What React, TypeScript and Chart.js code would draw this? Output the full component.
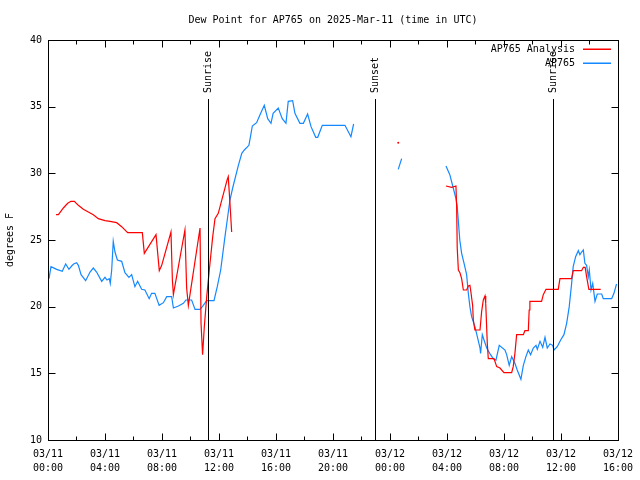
import React, { useEffect, useRef } from "react";
import { Chart, registerables } from "chart.js";

Chart.register(...registerables);

const TITLE = "Dew Point for AP765 on 2025-Mar-11 (time in UTC)";
const Y_LABEL = "degrees F";
const SERIES_NAMES = ["AP765 Analysis", "AP765"];
const SERIES_COLORS = ["#ff0000", "#1488ff"];
const DAY_LABELS = ["03/11", "03/12"];

// hours since 03/11 00:00 UTC; null value = gap
const analysisHours = [
  0.56, 0.73, 1.08, 1.38, 1.61, 1.85, 2.13, 2.48, 2.83, 3.18, 3.53, 4.0, 4.35, 4.82, 5.17, 5.59,
  6.57, 6.62, 6.76, 7.58, 7.81, 7.98, 8.63, 8.73, 8.8, 9.61, 9.73, 9.85, 10.67, 10.74, 10.85,
  10.97, 11.14, 11.32, 11.56, 11.72, 11.95, 12.58, 12.65, 12.77, 12.89,
  18.0,
  24.58,
  26.0,
  27.93, 28.33, 28.63, 28.68, 28.72, 28.8, 28.91, 29.03, 29.15, 29.38, 29.5, 29.61, 29.68, 29.8,
  29.85, 29.96, 30.32, 30.43, 30.55, 30.67, 30.72, 30.83, 30.9, 31.3, 31.49, 31.72, 32.0, 32.54,
  32.65, 32.77, 32.89, 33.36, 33.47, 33.71, 33.77, 33.82, 34.64, 34.76, 34.95, 35.81, 35.93,
  36.75, 36.86, 37.45, 37.57, 37.7, 37.8, 37.96, 38.79,
];
const analysisValues = [
  26.9, 26.9, 27.4, 27.75, 27.9, 27.9, 27.6, 27.3, 27.1, 26.9, 26.6, 26.45, 26.4, 26.3, 26.0, 25.55,
  25.55, 25.55, 24.0, 25.4, 22.7, 23.1, 25.6, 22.0, 20.9, 25.75, 21.4, 20.1, 25.9, 18.75, 16.4,
  18.5, 20.75, 22.75, 25.25, 26.6, 27.0, 29.55, 29.75, 27.75, 25.6,
  null,
  32.3,
  null,
  29.05, 28.95, 29.05, 27.5, 24.4, 22.75, 22.55, 22.1, 21.25, 21.25, 21.55, 21.6, 21.1, 20.1,
  19.0, 18.25, 18.25, 19.6, 20.5, 20.8, 20.25, 17.25, 16.1, 16.1, 15.5, 15.4, 15.05, 15.05,
  15.5, 16.5, 17.9, 17.9, 18.2, 18.2, 19.75, 20.4, 20.4, 20.9, 21.3, 21.3, 22.1,
  22.1, 22.7, 22.7, 22.95, 22.95, 22.25, 21.3, 21.3,
];

const obsHours = [
  0.07, 0.21, 0.61, 1.0, 1.24, 1.47, 1.66, 1.8, 2.01, 2.13, 2.32, 2.64, 2.95, 3.18, 3.41, 3.77,
  4.0, 4.14, 4.3, 4.37, 4.47, 4.58, 4.7, 4.87, 5.17, 5.4, 5.68, 5.87, 6.1, 6.29, 6.57, 6.8, 7.1,
  7.27, 7.5, 7.8, 8.1, 8.33, 8.68, 8.8, 9.15, 9.5, 9.68, 10.08, 10.32, 10.67, 10.9, 11.14, 11.65,
  11.88, 12.12, 12.42, 12.58, 12.77, 12.96, 13.36, 13.6, 13.78, 14.1, 14.25, 14.34, 14.64, 14.88,
  15.18, 15.42, 15.65, 15.8, 16.16, 16.44, 16.7, 16.86, 17.17, 17.33, 17.68, 17.92, 18.22, 18.46,
  18.79, 18.93, 19.25, 20.84, 21.26, 21.45,
  23.0,
  24.58, 24.82,
  26.0,
  27.93, 28.2, 28.44, 28.63, 28.72, 28.8, 28.9, 29.03, 29.2, 29.38, 29.5, 29.61, 29.73, 29.96,
  30.13, 30.32, 30.36, 30.48, 30.6, 30.79, 31.0, 31.25, 31.44, 31.67, 32.07, 32.19, 32.37, 32.54,
  32.77, 32.93, 33.19, 33.36, 33.54, 33.71, 33.87, 34.06, 34.25, 34.34, 34.53, 34.72, 34.88,
  35.04, 35.23, 35.42, 35.51, 35.74, 35.98, 36.21, 36.4, 36.58, 36.75, 36.86, 37.03, 37.22,
  37.33, 37.45, 37.57, 37.68, 37.8, 37.92, 37.99, 38.11, 38.23, 38.39, 38.55, 38.86, 38.97,
  39.56, 39.72, 39.9,
];
const obsValues = [
  22.1, 23.0, 22.8, 22.65, 23.2, 22.8, 23.05, 23.2, 23.3, 23.1, 22.4, 21.95, 22.6, 22.9, 22.6, 21.9,
  22.2, 22.0, 22.1, 21.75, 22.75, 24.9, 24.1, 23.5, 23.4, 22.55, 22.2, 22.4, 21.5, 21.9, 21.3, 21.25, 20.6,
  21.0, 21.0, 20.1, 20.3, 20.75, 20.75, 19.9, 20.05, 20.25, 20.5, 20.5, 19.8, 19.8, 20.1, 20.45, 20.45,
  21.5, 22.75, 25.25, 26.5, 28.0, 28.9, 30.6, 31.5, 31.75, 32.1, 33.0, 33.55, 33.8, 34.4,
  35.1, 34.1, 33.75, 34.5, 34.9, 34.1, 33.75, 35.4, 35.45, 34.5, 33.75, 33.75, 34.45, 33.5,
  32.7, 32.7, 33.6, 33.6, 32.75, 33.7,
  null,
  30.3, 31.1,
  null,
  30.55, 29.9, 28.9, 28.1, 27.5, 26.4, 25.0, 24.0, 23.25, 22.4, 21.0, 20.0, 19.25, 18.5,
  17.75, 16.9, 16.5, 17.9, 17.5, 16.9, 16.5, 16.1, 16.0, 17.1, 16.75, 16.4, 15.6, 16.25,
  15.75, 15.25, 14.55, 15.6, 16.25, 16.75, 16.4, 16.9, 17.1, 16.8, 17.4, 16.95, 17.7,
  16.9, 17.2, 17.1, 16.75, 17.0, 17.5, 17.9, 18.75, 20.0, 21.75, 23.0, 23.75, 24.2,
  23.9, 24.1, 24.25, 23.25, 23.1, 22.25, 22.75, 21.25, 21.75, 20.4, 20.95, 20.95, 20.6,
  20.6, 21.0, 21.7,
];

const sunEventHours = [11.23, 22.95, 35.44];
const sunEventLabels = ["Sunrise", "Sunset", "Sunrise"];

const X_MIN = 0;
const X_MAX = 40;
const Y_MIN = 10;
const Y_MAX = 40;

const FONT = "DejaVu Sans Mono";

function toPoints(hours: number[], values: (number | null)[]) {
  return hours.map((h, i) => ({ x: h, y: values[i] }));
}

function fmtHour(v: number): string | string[] {
  if (Math.abs(v % 4) > 1e-6) return "";
  const day = DAY_LABELS[Math.floor(v / 24)] ?? "";
  const hh = String(Math.round(v % 24)).padStart(2, "0");
  return [day, hh + ":00"];
}

const isolatedRadius = (ctx: any) => {
  const d = ctx.dataset.data;
  const i = ctx.dataIndex;
  const cur = d[i];
  if (!cur || cur.y == null) return 0;
  const p = d[i - 1];
  const n = d[i + 1];
  return (!p || p.y == null) && (!n || n.y == null) ? 1 : 0;
};

const decorPlugin = {
  id: "decor",
  afterDatasetsDraw(chart: any) {
    const { ctx, chartArea: a, scales } = chart;
    const xs = scales.x;
    const ys = scales.y;
    const L = Math.round(a.left) + 0.5;
    const R = Math.round(a.right) + 0.5;
    const T = Math.round(a.top) + 0.5;
    const B = Math.round(a.bottom) + 0.5;
    ctx.save();
    ctx.strokeStyle = "#000";
    ctx.lineWidth = 1;

    // tick marks (inside, mirrored)
    ctx.beginPath();
    for (let v = Y_MIN; v <= Y_MAX; v += 5) {
      const y = Math.round(ys.getPixelForValue(v)) + 0.5;
      ctx.moveTo(L, y); ctx.lineTo(L + 7, y);
      ctx.moveTo(R, y); ctx.lineTo(R - 7, y);
    }
    for (let v = X_MIN; v <= X_MAX; v += 2) {
      const x = Math.round(xs.getPixelForValue(v)) + 0.5;
      const len = v % 4 === 0 ? 7 : 4;
      ctx.moveTo(x, B); ctx.lineTo(x, B - len);
      ctx.moveTo(x, T); ctx.lineTo(x, T + len);
    }
    ctx.stroke();

    // sunrise / sunset lines
    ctx.font = `10px "${FONT}"`;
    ctx.fillStyle = "#000";
    sunEventHours.forEach((h, i) => {
      const x = Math.round(xs.getPixelForValue(h)) + 0.5;
      ctx.beginPath();
      ctx.moveTo(x, 99);
      ctx.lineTo(x, B);
      ctx.stroke();
      ctx.save();
      ctx.translate(x, 93);
      ctx.rotate(-Math.PI / 2);
      ctx.textAlign = "left";
      ctx.textBaseline = "middle";
      ctx.fillText(sunEventLabels[i], 0, 0);
      ctx.restore();
    });

    // frame
    ctx.strokeRect(L, T, R - L, B - T);

    // title
    ctx.textAlign = "center";
    ctx.textBaseline = "middle";
    ctx.fillText(TITLE, (a.left + a.right) / 2, 20);

    // y label
    ctx.save();
    ctx.translate(10, (a.top + a.bottom) / 2);
    ctx.rotate(-Math.PI / 2);
    ctx.fillText(Y_LABEL, 0, 0);
    ctx.restore();

    // legend
    ctx.textAlign = "right";
    SERIES_NAMES.forEach((name, i) => {
      const y = 49 + i * 14;
      ctx.fillStyle = "#000";
      ctx.fillText(name, 575, y);
    });
    SERIES_NAMES.forEach((name, i) => {
      const y = 49 + i * 14;
      ctx.fillStyle = SERIES_COLORS[i];
      ctx.fillRect(583, y - 0.5, 28, 1.5);
    });
    ctx.restore();
  },
};

export default function App() {
  const ref = useRef<HTMLCanvasElement | null>(null);

  useEffect(() => {
    if (!ref.current) return;
    const chart = new Chart(ref.current, {
      type: "line",
      data: {
        datasets: [
          {
            label: SERIES_NAMES[0],
            data: toPoints(analysisHours, analysisValues) as any,
            borderColor: SERIES_COLORS[0],
            backgroundColor: SERIES_COLORS[0],
            borderWidth: 1.2,
            pointRadius: isolatedRadius,
            pointBorderWidth: 0,
            tension: 0,
            spanGaps: false,
          },
          {
            label: SERIES_NAMES[1],
            data: toPoints(obsHours, obsValues) as any,
            borderColor: SERIES_COLORS[1],
            backgroundColor: SERIES_COLORS[1],
            borderWidth: 1.2,
            pointRadius: isolatedRadius,
            pointBorderWidth: 0,
            tension: 0,
            spanGaps: false,
          },
        ],
      },
      options: {
        animation: false,
        responsive: false,
        devicePixelRatio: 1,
        layout: { padding: { top: 40, right: 22, left: 0, bottom: 0 } },
        plugins: {
          legend: { display: false },
          title: { display: false },
          tooltip: { enabled: false },
        },
        scales: {
          x: {
            type: "linear",
            min: X_MIN,
            max: X_MAX,
            grid: { display: false, drawTicks: false },
            border: { display: false },
            afterFit: (s: any) => { s.height = 40; },
            ticks: {
              stepSize: 2,
              autoSkip: false,
              maxRotation: 0,
              minRotation: 0,
              padding: 7,
              color: "#000",
              font: { family: FONT, size: 10, lineHeight: 1.4 },
              callback: (v: any) => fmtHour(Number(v)),
            },
          },
          y: {
            type: "linear",
            min: Y_MIN,
            max: Y_MAX,
            grid: { display: false, drawTicks: false },
            border: { display: false },
            afterFit: (s: any) => { s.width = 48; },
            ticks: {
              stepSize: 5,
              padding: 6,
              color: "#000",
              font: { family: FONT, size: 10 },
            },
          },
        },
      },
      plugins: [decorPlugin],
    });
    return () => chart.destroy();
  }, []);

  return (
    <div style={{ position: "fixed", left: 0, top: 0, width: 640, height: 480, background: "#fff" }}>
      <canvas ref={ref} width={640} height={480} style={{ width: 640, height: 480, display: "block" }} />
    </div>
  );
}
